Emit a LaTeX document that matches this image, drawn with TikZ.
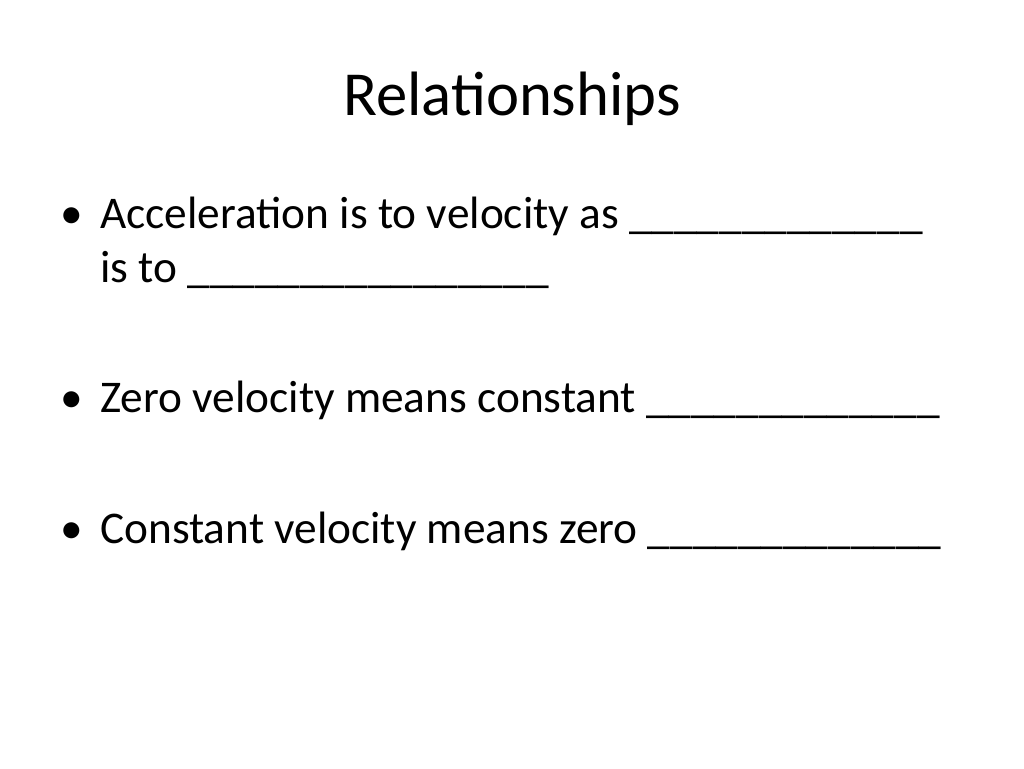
\documentclass[tikz,border=0pt]{standalone}
\usepackage{fontspec}
\setmainfont{Carlito}
\usepackage{xcolor}

\begin{document}
\begin{tikzpicture}[x=0.75pt,y=0.75pt,yscale=-1,xscale=1]
            \path[use as bounding box] (0,0) rectangle (1024,768); %slide size

            % Title
            \node (title) at (512,115) [anchor=base][inner sep=0pt] [font=\fontsize{47}{56}\selectfont] {Relationships};

            % Bullets
            \node (b1) at (60,228) [anchor=base west][inner sep=0pt] [font=\fontsize{34}{40}\selectfont] {•};
            \node (t1) at (100,228) [anchor=base west][inner sep=0pt] [font=\fontsize{34}{40}\selectfont] {Acceleration is to velocity as \_\_\_\_\_\_\_\_\_\_\_\_\_};
            \node (t1b) at (100,282) [anchor=base west][inner sep=0pt] [font=\fontsize{34}{40}\selectfont] {is to \_\_\_\_\_\_\_\_\_\_\_\_\_\_\_\_};
            \node (b2) at (60,412) [anchor=base west][inner sep=0pt] [font=\fontsize{34}{40}\selectfont] {•};
            \node (t2) at (100,412) [anchor=base west][inner sep=0pt] [font=\fontsize{34}{40}\selectfont] {Zero velocity means constant \_\_\_\_\_\_\_\_\_\_\_\_\_};
            \node (b3) at (60,543) [anchor=base west][inner sep=0pt] [font=\fontsize{34}{40}\selectfont] {•};
            \node (t3) at (100,543) [anchor=base west][inner sep=0pt] [font=\fontsize{34}{40}\selectfont] {Constant velocity means zero \_\_\_\_\_\_\_\_\_\_\_\_\_};

\end{tikzpicture}
\end{document}
